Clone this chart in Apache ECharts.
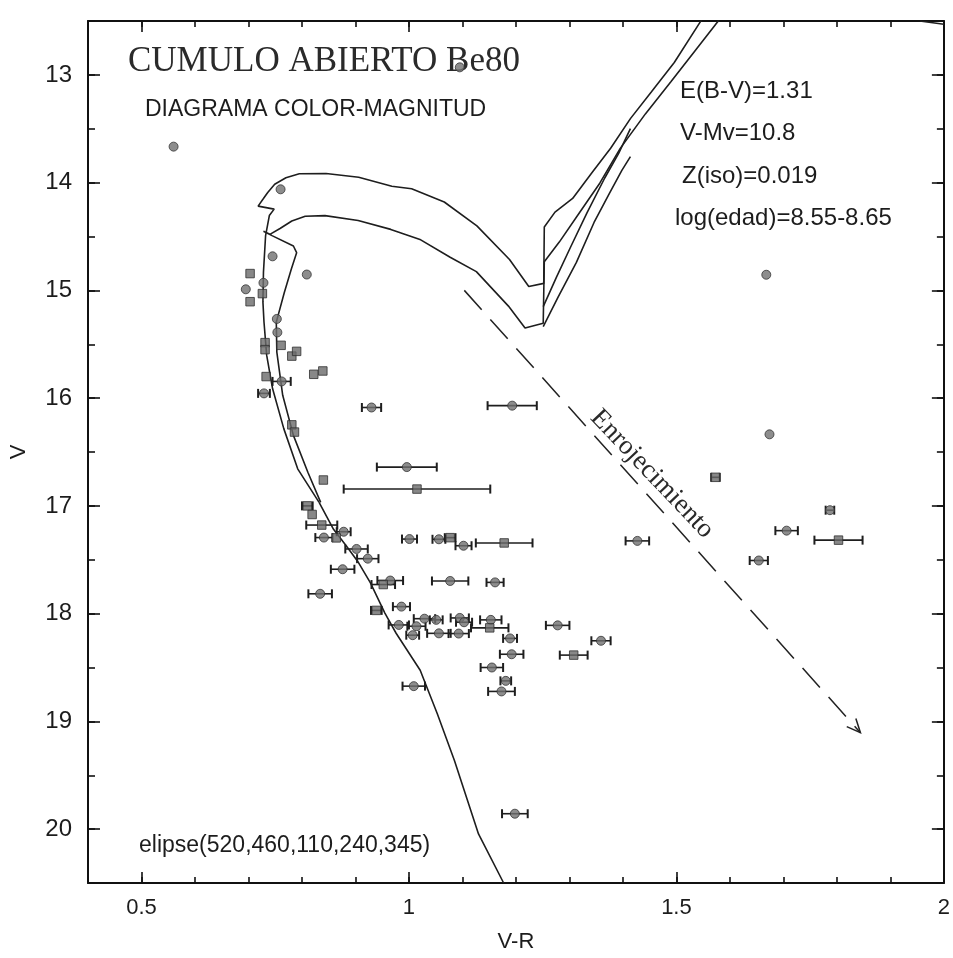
<!DOCTYPE html>
<html>
<head>
<meta charset="utf-8">
<script src="https://cdn.jsdelivr.net/npm/echarts@6/dist/echarts.min.js"></script>
<style>
  html, body { margin: 0; padding: 0; background: #ffffff; }
  #chart { width: 953px; height: 958px; }
</style>
</head>
<body>
<div id="chart"></div>
<script>
// ---- Axis ticks ----
const xMajorTicks = [0.5, 1, 1.5, 2];
const yMajorTicks = [13, 14, 15, 16, 17, 18, 19, 20];

// ---- Stars: [V-R, V, half-width of V-R error bar] (0 = no bar) ----
const starsCircle = [
  [0.560, 13.666, 0], [0.760, 14.062, 0], [0.745, 14.684, 0], [0.809, 14.853, 0],
  [0.728, 14.930, 0], [0.695, 14.990, 0], [0.753, 15.265, 0], [0.754, 15.390, 0],
  [0.762, 15.845, 0.017], [0.729, 15.956, 0.011], [0.930, 16.087, 0.018],
  [1.193, 16.070, 0.046], [0.996, 16.640, 0.056], [0.878, 17.240, 0.013],
  [0.841, 17.294, 0.016], [0.902, 17.400, 0.021], [0.923, 17.490, 0.020],
  [0.876, 17.588, 0.022], [0.834, 17.816, 0.022], [1.001, 17.308, 0.014],
  [1.056, 17.310, 0.012], [1.102, 17.370, 0.015], [0.965, 17.693, 0.024],
  [1.077, 17.697, 0.034], [1.161, 17.710, 0.016], [0.986, 17.935, 0.016],
  [1.427, 17.325, 0.022], [1.674, 16.336, 0], [1.787, 17.040, 0.008],
  [1.706, 17.230, 0.021], [1.654, 17.507, 0.017], [1.668, 14.855, 0],
  [1.095, 12.930, 0], [0.981, 18.105, 0.019], [1.029, 18.047, 0.020],
  [1.051, 18.058, 0.012], [1.095, 18.040, 0.017], [1.103, 18.080, 0.015],
  [1.153, 18.058, 0.020], [1.278, 18.109, 0.022], [1.014, 18.117, 0.017],
  [1.007, 18.200, 0.012], [1.056, 18.183, 0.022], [1.093, 18.185, 0.019],
  [1.189, 18.230, 0.013], [1.359, 18.252, 0.018], [1.192, 18.377, 0.022],
  [1.155, 18.500, 0.021], [1.181, 18.624, 0.010], [1.173, 18.722, 0.025],
  [1.009, 18.673, 0.021], [1.198, 19.857, 0.024]
];
const starsSquare = [
  [0.703, 14.844, 0], [0.726, 15.030, 0], [0.703, 15.105, 0], [0.731, 15.485, 0],
  [0.731, 15.550, 0], [0.761, 15.510, 0], [0.781, 15.610, 0], [0.790, 15.566, 0],
  [0.822, 15.779, 0], [0.839, 15.748, 0], [0.733, 15.800, 0], [0.781, 16.248, 0],
  [0.786, 16.315, 0], [1.015, 16.844, 0.137], [0.840, 16.760, 0],
  [0.810, 17.000, 0.010], [0.819, 17.080, 0], [0.837, 17.178, 0.029],
  [0.864, 17.297, 0], [1.077, 17.295, 0.010], [1.178, 17.344, 0.053],
  [0.952, 17.730, 0.022], [0.939, 17.970, 0.010], [1.573, 16.735, 0.008],
  [1.803, 17.318, 0.045], [1.151, 18.132, 0.035], [1.308, 18.385, 0.026]
];

// ---- Isochrones (V-R, V) ----
const lowerMainSequence = [
  [1.177, 20.50], [1.130, 20.045], [1.085, 19.364], [1.053, 18.929], [1.021, 18.525],
  [0.976, 18.182], [0.955, 17.995], [0.928, 17.715], [0.904, 17.513], [0.883, 17.372],
  [0.859, 17.217], [0.832, 16.967]
];
// log(edad)=8.55: blue branch, upper subgiant crossing
const isoYoung = [
  [0.832, 16.967], [0.792, 16.656], [0.766, 16.283], [0.745, 15.911], [0.734, 15.601],
  [0.729, 15.293], [0.727, 15.107], [0.728, 14.831], [0.732, 14.491], [0.739, 14.306],
  [0.748, 14.246], [0.718, 14.218], [0.727, 14.155], [0.736, 14.091], [0.749, 14.015],
  [0.770, 13.955], [0.795, 13.917], [0.845, 13.915], [0.906, 13.950], [0.968, 14.033],
  [1.005, 14.057], [1.066, 14.180], [1.127, 14.401], [1.188, 14.714], [1.224, 14.964],
  [1.252, 14.935], [1.253, 14.411], [1.273, 14.274], [1.306, 14.147], [1.342, 13.909],
  [1.377, 13.681], [1.414, 13.406], [1.453, 13.160], [1.496, 12.885], [1.547, 12.49]
];
// log(edad)=8.65: red branch, lower subgiant crossing
const isoOld = [
  [0.835, 16.968], [0.811, 16.688], [0.784, 16.346], [0.764, 15.974], [0.753, 15.573],
  [0.752, 15.295], [0.767, 15.019], [0.780, 14.804], [0.790, 14.650], [0.784, 14.588],
  [0.744, 14.492], [0.728, 14.452], [0.740, 14.480], [0.759, 14.426], [0.781, 14.356],
  [0.806, 14.312], [0.843, 14.306], [0.905, 14.352], [0.966, 14.434], [1.022, 14.531],
  [1.077, 14.693], [1.126, 14.826], [1.186, 15.146], [1.217, 15.349], [1.251, 15.306],
  [1.253, 14.734], [1.281, 14.552], [1.319, 14.277], [1.357, 14.003], [1.395, 13.682],
  [1.442, 13.362], [1.490, 13.061], [1.536, 12.769], [1.579, 12.495]
];
const giantBranchA = [
  [1.251, 15.151], [1.276, 14.875], [1.302, 14.600], [1.333, 14.278], [1.366, 13.957],
  [1.392, 13.729], [1.414, 13.499]
];
const giantBranchB = [
  [1.251, 15.336], [1.279, 15.061], [1.313, 14.740], [1.346, 14.370], [1.375, 14.097],
  [1.398, 13.886], [1.414, 13.758]
];
const cornerBranch = [[1.955, 12.50], [2.0, 12.53]];

// ---- Reddening vector: start and end (V-R, V) ----
const reddeningVector = [[1.1035, 15.00, 1.844, 19.105]];

// ---- Texts ----
const titleText = 'CUMULO ABIERTO Be80';
const subtitleText = 'DIAGRAMA COLOR-MAGNITUD';
const paramTexts = ['E(B-V)=1.31', 'V-Mv=10.8', 'Z(iso)=0.019', 'log(edad)=8.55-8.65'];
const ellipseText = 'elipse(520,460,110,240,345)';
const reddeningLabel = 'Enrojecimiento';

const INK = '#1c1c1c';
const SANS = '"Liberation Sans", Arial, sans-serif';
const SERIF = '"Liberation Serif", "Times New Roman", serif';

const chart = echarts.init(document.getElementById('chart'), null, { renderer: 'canvas' });

const frameLine = { show: true, lineStyle: { color: '#111', width: 2 } };
const tickStyle = { color: '#111', width: 1.6 };

function xAxisDef(position, minor) {
  const a = {
    type: 'value', min: 0.4, max: 2.0, position: position,
    splitLine: { show: false },
    axisLine: minor ? frameLine : { show: false },
    axisLabel: { show: false }
  };
  if (minor) {
    a.interval = 0.1;
    a.axisTick = { show: true, inside: true, length: 6, lineStyle: tickStyle };
  } else {
    a.axisTick = { show: true, inside: true, length: 11, customValues: xMajorTicks, lineStyle: tickStyle };
  }
  return a;
}
function yAxisDef(position, minor) {
  const a = {
    type: 'value', min: 12.5, max: 20.5, inverse: true, position: position,
    splitLine: { show: false },
    axisLine: minor ? frameLine : { show: false },
    axisLabel: { show: false }
  };
  if (minor) {
    a.interval = 0.5;
    a.axisTick = { show: true, inside: true, length: 7, lineStyle: tickStyle };
  } else {
    a.axisTick = { show: true, inside: true, length: 12, customValues: yMajorTicks, lineStyle: tickStyle };
  }
  return a;
}

const xAxes = [xAxisDef('bottom', true), xAxisDef('bottom', false), xAxisDef('top', true), xAxisDef('top', false)];
xAxes[0].axisLabel = {
  show: true, customValues: xMajorTicks, color: INK, fontSize: 22, fontFamily: SANS, margin: 14,
  formatter: v => String(Math.round(v * 10) / 10)
};
xAxes[0].name = 'V-R';
xAxes[0].nameLocation = 'middle';
xAxes[0].nameGap = 48;
xAxes[0].nameTextStyle = { color: INK, fontSize: 22, fontFamily: SANS };

const yAxes = [yAxisDef('left', true), yAxisDef('left', false), yAxisDef('right', true), yAxisDef('right', false)];
yAxes[0].axisLabel = {
  show: true, customValues: yMajorTicks, color: INK, fontSize: 24, fontFamily: SANS, margin: 16,
  formatter: v => String(Math.round(v))
};
yAxes[0].name = 'V';
yAxes[0].nameLocation = 'middle';
yAxes[0].nameGap = 58;
yAxes[0].nameRotate = 90;
yAxes[0].nameTextStyle = { color: INK, fontSize: 22, fontFamily: SANS };

function curve(name, data) {
  return {
    name: name, type: 'line', data: data, xAxisIndex: 0, yAxisIndex: 0,
    showSymbol: false, symbol: 'none', smooth: false, silent: true, z: 3,
    lineStyle: { color: '#1e1e1e', width: 1.6 }
  };
}

const withBars = starsCircle.concat(starsSquare).filter(s => s[2] > 0);

const option = {
  backgroundColor: '#ffffff',
  animation: false,
  grid: { left: 85, top: 21, width: 864, height: 864, containLabel: false },
  xAxis: xAxes,
  yAxis: yAxes,
  graphic: [
    { type: 'text', x: 128, y: 62, style: { text: titleText, fill: '#2a2a2a', font: '35px ' + SERIF, textAlign: 'left', textVerticalAlign: 'middle', align: 'left', verticalAlign: 'middle' } },
    { type: 'text', x: 145, y: 110, style: { text: subtitleText, fill: INK, font: '23px ' + SANS, textAlign: 'left', textVerticalAlign: 'middle', align: 'left', verticalAlign: 'middle' } },
    { type: 'text', x: 680, y: 91, style: { text: paramTexts[0], fill: INK, font: '24px ' + SANS, textAlign: 'left', textVerticalAlign: 'middle', align: 'left', verticalAlign: 'middle' } },
    { type: 'text', x: 680, y: 133, style: { text: paramTexts[1], fill: INK, font: '24px ' + SANS, textAlign: 'left', textVerticalAlign: 'middle', align: 'left', verticalAlign: 'middle' } },
    { type: 'text', x: 682, y: 176, style: { text: paramTexts[2], fill: INK, font: '24px ' + SANS, textAlign: 'left', textVerticalAlign: 'middle', align: 'left', verticalAlign: 'middle' } },
    { type: 'text', x: 675, y: 218, style: { text: paramTexts[3], fill: INK, font: '24px ' + SANS, textAlign: 'left', textVerticalAlign: 'middle', align: 'left', verticalAlign: 'middle' } },
    { type: 'text', x: 139, y: 846, style: { text: ellipseText, fill: INK, font: '23px ' + SANS, textAlign: 'left', textVerticalAlign: 'middle', align: 'left', verticalAlign: 'middle' } },
    { type: 'text', x: 652, y: 474, rotation: -46.5 * Math.PI / 180, style: { text: reddeningLabel, fill: '#2a2a2a', font: '27px ' + SERIF, textAlign: 'center', textVerticalAlign: 'middle', align: 'center', verticalAlign: 'middle' } }
  ],
  series: [
    curve('ms', lowerMainSequence),
    curve('iso855', isoYoung),
    curve('iso865', isoOld),
    curve('gbA', giantBranchA),
    curve('gbB', giantBranchB),
    curve('corner', cornerBranch),
    {
      name: 'reddening', type: 'custom', xAxisIndex: 0, yAxisIndex: 0, silent: true, z: 2,
      data: reddeningVector,
      encode: { x: [0, 2], y: [1, 3] },
      renderItem: function (params, api) {
        const p1 = api.coord([api.value(0), api.value(1)]);
        const p2 = api.coord([api.value(2), api.value(3)]);
        const ang = Math.atan2(p2[1] - p1[1], p2[0] - p1[0]);
        const L = 15, spread = 0.42;
        const h1 = [p2[0] - L * Math.cos(ang - spread), p2[1] - L * Math.sin(ang - spread)];
        const h2 = [p2[0] - L * Math.cos(ang + spread), p2[1] - L * Math.sin(ang + spread)];
        return {
          type: 'group', children: [
            { type: 'line', shape: { x1: p1[0], y1: p1[1], x2: p2[0], y2: p2[1] }, style: { stroke: '#222', lineWidth: 1.5, lineDash: [26, 13] } },
            { type: 'polyline', shape: { points: [h1, p2, h2] }, style: { stroke: '#222', lineWidth: 1.5, fill: null } }
          ]
        };
      }
    },
    {
      name: 'errors', type: 'custom', xAxisIndex: 0, yAxisIndex: 0, silent: true, z: 4,
      data: withBars,
      encode: { x: 0, y: 1 },
      renderItem: function (params, api) {
        const x = api.value(0), y = api.value(1), e = api.value(2);
        const a = api.coord([x - e, y]);
        const b = api.coord([x + e, y]);
        const h = 4.5;
        const st = { stroke: '#1e1e1e', lineWidth: 1.6 };
        return {
          type: 'group', children: [
            { type: 'line', shape: { x1: a[0], y1: a[1], x2: b[0], y2: b[1] }, style: st },
            { type: 'line', shape: { x1: a[0], y1: a[1] - h, x2: a[0], y2: a[1] + h }, style: { stroke: '#1e1e1e', lineWidth: 2 } },
            { type: 'line', shape: { x1: b[0], y1: b[1] - h, x2: b[0], y2: b[1] + h }, style: { stroke: '#1e1e1e', lineWidth: 2 } }
          ]
        };
      }
    },
    {
      name: 'circles', type: 'scatter', xAxisIndex: 0, yAxisIndex: 0, z: 5, silent: true,
      data: starsCircle.map(s => [s[0], s[1]]),
      symbol: 'circle', symbolSize: 9,
      itemStyle: { color: '#707070', borderColor: '#353535', borderWidth: 1 }
    },
    {
      name: 'squares', type: 'scatter', xAxisIndex: 0, yAxisIndex: 0, z: 5, silent: true,
      data: starsSquare.map(s => [s[0], s[1]]),
      symbol: 'rect', symbolSize: 8.5,
      itemStyle: { color: '#6a6a6a', borderColor: '#303030', borderWidth: 1 }
    }
  ]
};

chart.setOption(option);
</script>
</body>
</html>
